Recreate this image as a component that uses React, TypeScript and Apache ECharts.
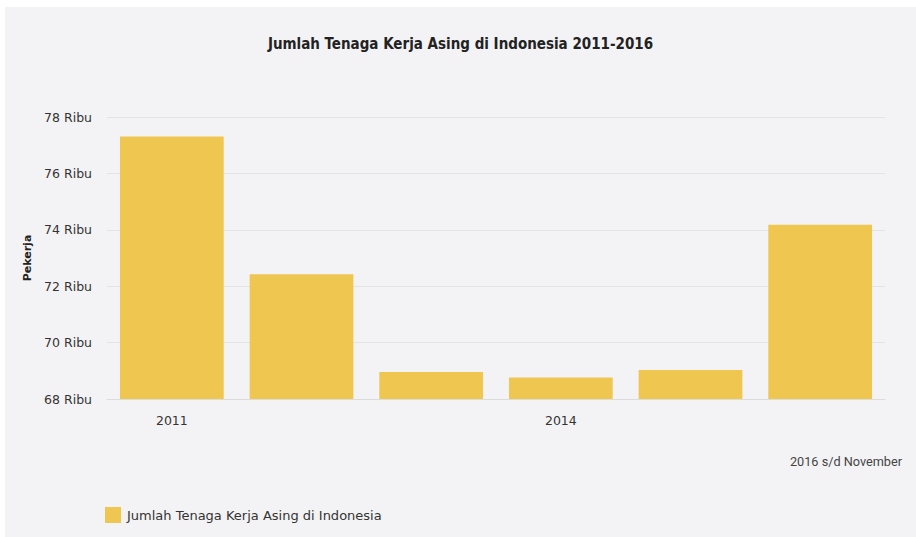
import React, { useEffect, useRef } from "react";
import * as echarts from "echarts";

const years = ["2011", "2012", "2013", "2014", "2015", "2016"];
const workersThousand = [77.307, 72.427, 68.957, 68.762, 69.025, 74.183];
const yTicks = { min: 68, max: 78, interval: 2 };
const seriesName = "Jumlah Tenaga Kerja Asing di Indonesia";
const titleText = "Jumlah Tenaga Kerja Asing di Indonesia 2011-2016";
const noteText = "2016 s/d November";
const yAxisName = "Pekerja";

export default function App() {
  const ref = useRef<HTMLDivElement>(null);
  useEffect(() => {
    if (!ref.current) return;
    const chart = echarts.init(ref.current, undefined, { renderer: "svg" });
    chart.setOption({
      animation: false,
      backgroundColor: "#f3f3f5",
      textStyle: { fontFamily: "DejaVu Sans" },
      title: {
        text: titleText,
        left: "center",
        top: 24,
        textStyle: {
          fontFamily: "DejaVu Sans Condensed",
          fontWeight: "bold",
          fontSize: 15,
          color: "#222",
        },
      },
      grid: { left: 102, right: 31, top: 110, bottom: 138, containLabel: false },
      xAxis: {
        type: "category",
        data: years,
        axisLine: { show: true, lineStyle: { color: "#dcdcdc" } },
        axisTick: { show: false },
        axisLabel: {
          interval: 2,
          margin: 15,
          fontSize: 12.5,
          color: "#333",
          fontFamily: "DejaVu Sans",
        },
      },
      yAxis: {
        type: "value",
        min: yTicks.min,
        max: yTicks.max,
        interval: yTicks.interval,
        name: yAxisName,
        nameLocation: "middle",
        nameGap: 73,
        nameTextStyle: { fontWeight: "bold", fontSize: 11, color: "#222", fontFamily: "DejaVu Sans" },
        axisLine: { show: false },
        axisTick: { show: false },
        splitLine: { lineStyle: { color: "#e4e4e6" } },
        axisLabel: {
          formatter: "{value} Ribu",
          margin: 15,
          fontSize: 12.5,
          color: "#333",
          fontFamily: "DejaVu Sans",
        },
      },
      legend: {
        left: 95,
        top: 495,
        icon: "rect",
        itemWidth: 16,
        itemHeight: 16,
        itemGap: 10,
        textStyle: { fontSize: 13, color: "#333", fontFamily: "DejaVu Sans", padding: [0, 0, 0, 1] },
        data: [seriesName],
      },
      graphic: [
        {
          type: "text",
          right: 14,
          top: 448,
          style: {
            text: noteText,
            font: "12.7px Roboto",
            fill: "#444",
          },
        },
      ],
      series: [
        {
          name: seriesName,
          type: "bar",
          data: workersThousand,
          barCategoryGap: "20%",
          itemStyle: { color: "#efc650" },
        },
      ],
    });
    return () => chart.dispose();
  }, []);
  return (
    <div style={{ position: "absolute", left: 0, top: 0, width: 916, height: 537, background: "#fff" }}>
      <div ref={ref} style={{ position: "absolute", left: 5, top: 7, width: 911, height: 530 }} />
    </div>
  );
}
